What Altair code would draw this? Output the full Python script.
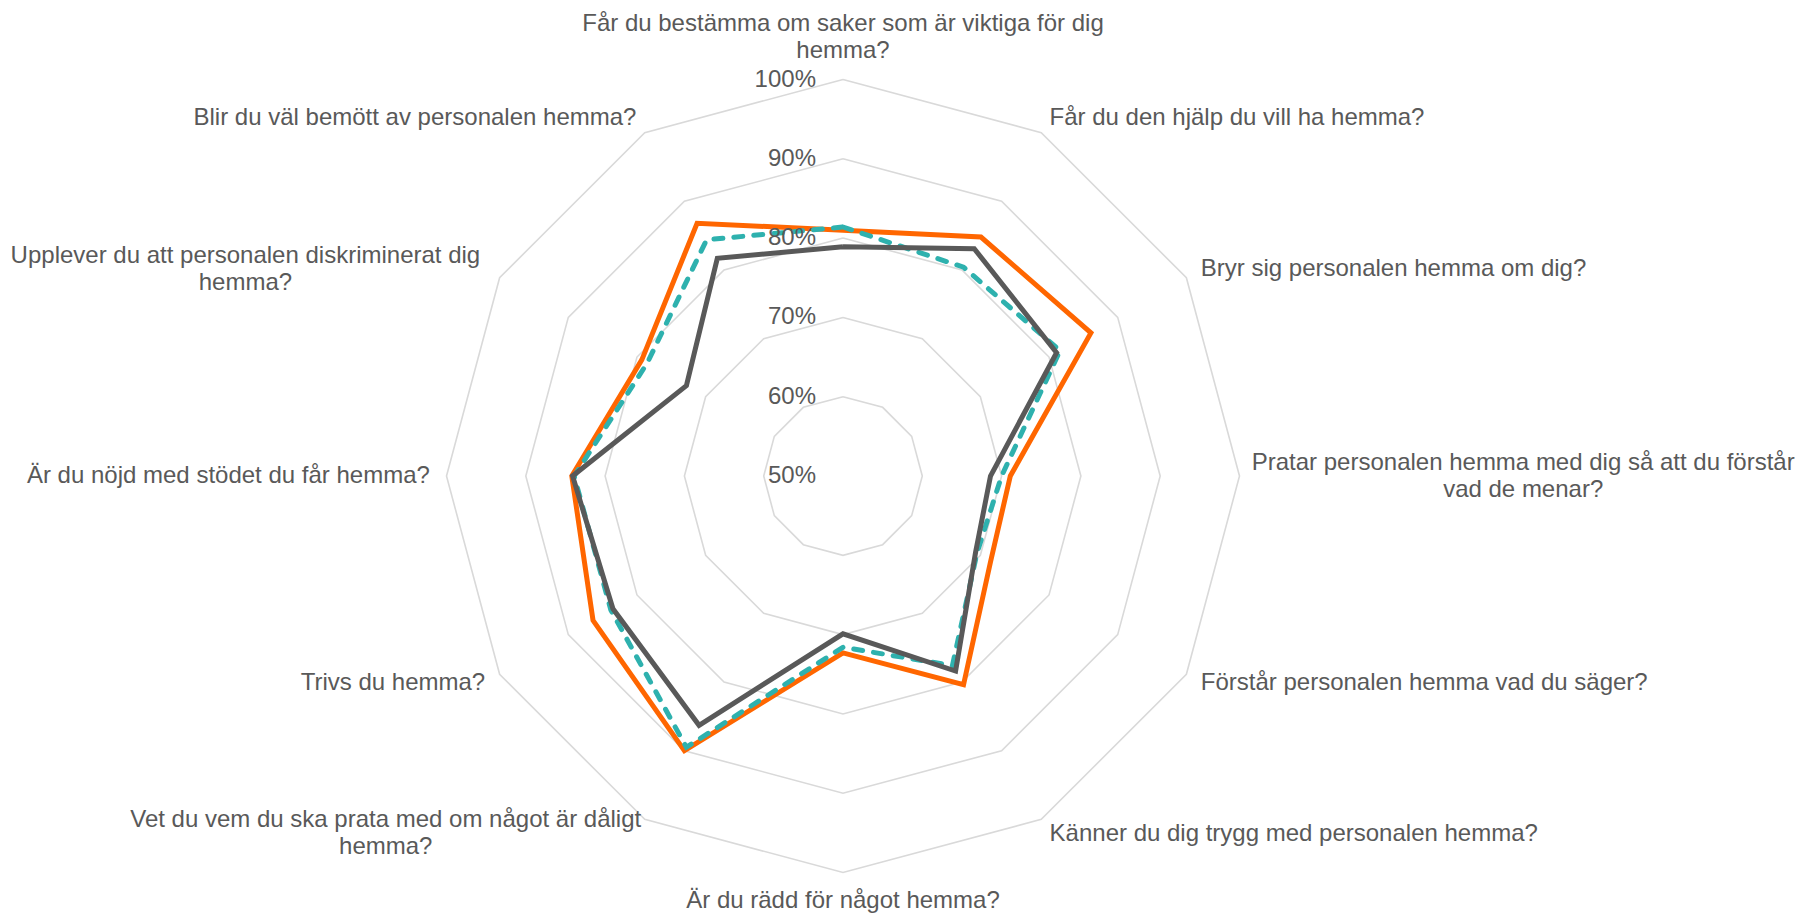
import math
import altair as alt
import pandas as pd

# ---------------- data ----------------
categories = [
    "Får du bestämma om saker som är viktiga för dig hemma?",
    "Får du den hjälp du vill ha hemma?",
    "Bryr sig personalen hemma om dig?",
    "Pratar personalen hemma med dig så att du förstår vad de menar?",
    "Förstår personalen hemma vad du säger?",
    "Känner du dig trygg med personalen hemma?",
    "Är du rädd för något hemma?",
    "Vet du vem du ska prata med om något är dåligt hemma?",
    "Trivs du hemma?",
    "Är du nöjd med stödet du får hemma?",
    "Upplever du att personalen diskriminerat dig hemma?",
    "Blir du väl bemött av personalen hemma?",
]
# how each category label is wrapped (as in the reference)
label_lines = [
    ["Får du bestämma om saker som är viktiga för dig", "hemma?"],
    ["Får du den hjälp du vill ha hemma?"],
    ["Bryr sig personalen hemma om dig?"],
    ["Pratar personalen hemma med dig så att du förstår", "vad de menar?"],
    ["Förstår personalen hemma vad du säger?"],
    ["Känner du dig trygg med personalen hemma?"],
    ["Är du rädd för något hemma?"],
    ["Vet du vem du ska prata med om något är dåligt", "hemma?"],
    ["Trivs du hemma?"],
    ["Är du nöjd med stödet du får hemma?"],
    ["Upplever du att personalen diskriminerat dig", "hemma?"],
    ["Blir du väl bemött av personalen hemma?"],
]
series_names = ["Serie 1", "Serie 2", "Serie 3"]
values_orange = [81.0, 84.8, 86.1, 71.1, 71.5, 80.4, 72.3, 90.0, 86.4, 84.2, 79.3, 86.8]
values_teal = [81.4, 80.4, 81.6, 70.0, 69.5, 77.6, 71.6, 89.5, 83.8, 83.9, 78.5, 84.4]
values_gray = [78.9, 83.1, 81.1, 68.6, 69.3, 78.4, 69.9, 86.3, 83.5, 84.1, 72.8, 81.7]
tick_values = [50, 60, 70, 80, 90, 100]
tick_labels = ["50%", "60%", "70%", "80%", "90%", "100%"]

# ---------------- geometry helpers ----------------
R_MIN = 50.0
N = len(categories)
PX_PER_UNIT = 7.93  # pixels per percentage point of radius
W, H = 1790, 895
CX, CY = 835, 468  # centre of the radar inside the plot area (pixels)
XDOM = [-CX / PX_PER_UNIT, (W - CX) / PX_PER_UNIT]
YDOM = [-(H - CY) / PX_PER_UNIT, CY / PX_PER_UNIT]
LINE_H = 27


def polar(value, i):
    a = 2 * math.pi * i / N
    r = value - R_MIN
    return r * math.sin(a), r * math.cos(a)


# series rows (closed polygons)
rows = []
for name, vals in zip(series_names, [values_orange, values_teal, values_gray]):
    for k in range(N + 1):
        i = k % N
        x, y = polar(vals[i], i)
        rows.append({"series": name, "k": k, "x": x, "y": y,
                     "category": categories[i], "value": vals[i]})
df_series = pd.DataFrame(rows)

# grid rings
grid_rows = []
for t in tick_values[1:]:
    for k in range(N + 1):
        x, y = polar(t, k % N)
        grid_rows.append({"ring": t, "k": k, "x": x, "y": y})
df_grid = pd.DataFrame(grid_rows)

# tick labels along the top spoke
df_ticks = pd.DataFrame({"label": tick_labels,
                         "x": [0.0] * len(tick_values),
                         "y": [t - R_MIN for t in tick_values]})

# category labels
LABEL_R = 102.1
CHAR_W = 10.9  # average glyph width in px at 24px
lab_rows = []
for i, lines in enumerate(label_lines):
    x, y = polar(LABEL_R, i)
    a = i * 360 / N
    if i == 0:
        align, base = "center", "bottom"
    elif i == N // 2:
        align, base = "center", "top"
    elif a < 180:
        align, base = "left", "middle"
    else:
        align, base = "right", "middle"
    extra = len(lines) - 1
    if extra:
        # multi-line blocks: shift so the whole block keeps the baseline rule
        if base == "bottom":
            y += extra * LINE_H / PX_PER_UNIT
        elif base == "middle":
            y += extra * LINE_H / 2 / PX_PER_UNIT
        if align != "center":
            half = max(len(s) for s in lines) * CHAR_W / 2 / PX_PER_UNIT
            x = x + half if align == "left" else x - half
            align = "center"
    lab_rows.append({"lines": lines, "x": x, "y": y, "align": align, "base": base})
df_labels = pd.DataFrame(lab_rows)

FONT = "Liberation Sans"
TEXT_COLOR = "#595959"

xenc = alt.X("x:Q", scale=alt.Scale(domain=XDOM, nice=False, zero=False), axis=None)
yenc = alt.Y("y:Q", scale=alt.Scale(domain=YDOM, nice=False, zero=False), axis=None)

grid = alt.Chart(df_grid).mark_line(color="#D9D9D9", strokeWidth=1.6).encode(
    x=xenc, y=yenc, detail="ring:N", order="k:Q")


def series_layer(name, color, dash=None):
    kw = dict(color=color, strokeWidth=5, strokeJoin="miter", strokeMiterLimit=4)
    if dash:
        kw.update(strokeDash=dash, strokeCap="round")
    return alt.Chart(df_series).transform_filter(
        alt.datum.series == name).mark_line(**kw).encode(x=xenc, y=yenc, order="k:Q")


orange = series_layer(series_names[0], "#FF6600")
teal = series_layer(series_names[1], "#2EB1AE", dash=[9, 11])
gray = series_layer(series_names[2], "#595959")

ticks = alt.Chart(df_ticks).mark_text(
    align="right", baseline="middle", dx=-27, font=FONT, fontSize=24, color=TEXT_COLOR
).encode(x=xenc, y=yenc, text="label:N")

label_layers = []
for (al, bl), sub in df_labels.groupby(["align", "base"]):
    label_layers.append(
        alt.Chart(sub).mark_text(align=al, baseline=bl, font=FONT, fontSize=24,
                                 lineHeight=LINE_H, color=TEXT_COLOR)
        .encode(x=xenc, y=yenc, text="lines")
    )

chart = alt.layer(grid, orange, teal, gray, ticks, *label_layers).properties(
    width=W, height=H, padding=0, background="white"
).configure_view(stroke=None)

chart.save("out.html", embed_options={"renderer": "svg", "actions": False})
